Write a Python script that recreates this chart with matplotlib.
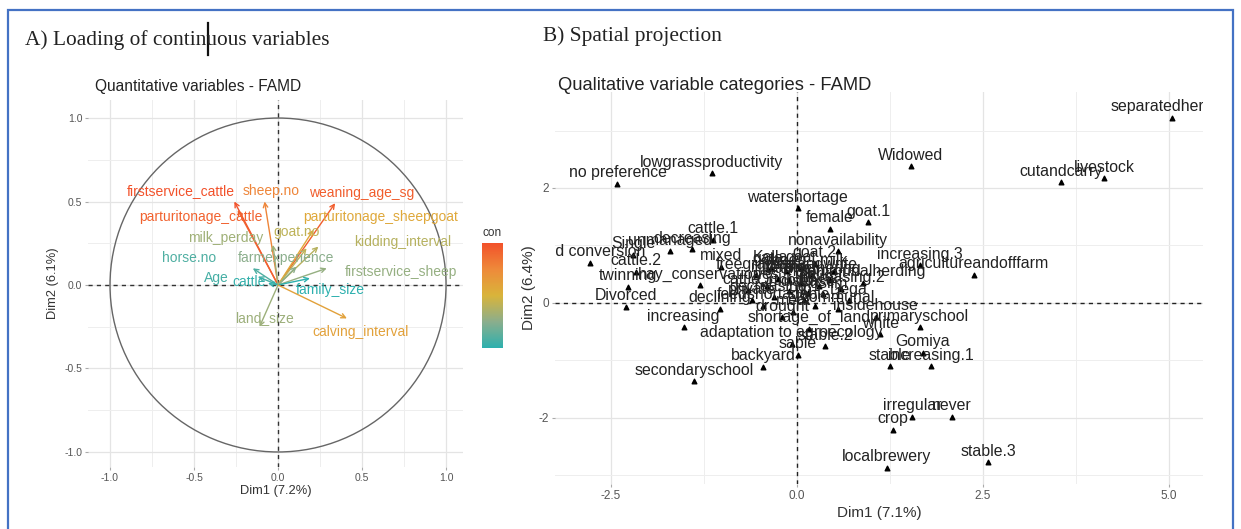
import matplotlib
matplotlib.use("Agg")
import matplotlib.pyplot as plt
import matplotlib.transforms as mtransforms
import numpy as np
from matplotlib.colors import LinearSegmentedColormap, Normalize
from matplotlib.cm import ScalarMappable
from matplotlib.patches import Circle, Rectangle
from matplotlib.lines import Line2D

plt.rcParams['font.family'] = ['Liberation Sans', 'DejaVu Sans']
plt.rcParams['axes.unicode_minus'] = False

# A) quantitative variables: coordinates on Dim1 / Dim2 and contribution
var_names = ["firstservice_cattle", "sheep.no", "weaning_age_sg", "parturitonage_cattle",
             "parturitonage_sheepgoat", "goat.no", "milk_perday", "kidding_interval",
             "horse.no", "farmexperience", "firstservice_sheep", "Age", "cattle",
             "family_size", "land_size", "calving_interval"]
var_dim1 = [-0.26, -0.08, 0.34, -0.24, 0.21, 0.17, -0.03, 0.24,
            -0.15, 0.11, 0.29, -0.12, -0.06, 0.19, -0.11, 0.41]
var_dim2 = [0.50, 0.50, 0.49, 0.45, 0.33, 0.22, 0.24, 0.23,
            0.10, 0.11, 0.10, 0.05, 0.01, 0.04, -0.25, -0.20]
var_contrib = [14.0, 11.0, 13.3, 13.0, 8.4, 6.3, 5.0, 6.0,
               2.1, 4.2, 4.6, 1.8, 1.2, 0.9, 4.9, 8.9]

# label offsets from arrow tip (layout only)
lab_off = {"firstservice_cattle": (-0.32, 0.06), "sheep.no": (0.04, 0.06),
           "weaning_age_sg": (0.16, 0.06), "parturitonage_cattle": (-0.22, -0.04),
           "parturitonage_sheepgoat": (0.40, 0.08), "goat.no": (-0.06, 0.10),
           "milk_perday": (-0.28, 0.04), "kidding_interval": (0.50, 0.03),
           "horse.no": (-0.38, 0.06), "farmexperience": (-0.06, 0.05),
           "firstservice_sheep": (0.44, -0.02), "Age": (-0.25, -0.01),
           "cattle": (-0.11, 0.01), "family_size": (0.12, -0.07),
           "land_size": (0.03, 0.05), "calving_interval": (0.08, -0.08)}

# B) qualitative variable categories
cat_names = ["separatedherding", "Widowed", "cutandcarry", "livestock", "lowgrassproductivity",
             "no preference", "watershortage", "goat.1", "female", "cattle.1",
             "land conversion", "Single", "unmanaged", "decreasing", "cattle.2",
             "twinning", "mixed", "gata", "goat.2", "nonavailability",
             "hay_conservation", "Divorced", "increasing", "secondaryschool", "backyard",
             "adaptation to agroecology", "sable", "stable.2", "primaryschool", "Gomiya",
             "stable", "increasing.1", "irregular", "never", "crop",
             "localbrewery", "stable.3", "insidehouse", "agricultureandofffarm", "increasing.3",
             "communalherding",
             "male", "illiterate", "readandwrite", "Orthodox", "Muslim",
             "yes", "no", "freegrazing", "tethering", "increasing.2",
             "decreasing.1", "stable.1", "sheep", "goat", "cattle.3",
             "milk", "meat", "market", "feedshortage", "disease",
             "drought", "communal", "private", "Dega", "Kolla",
             "Married", "shortage_of_land", "white", "declining"]
cat_dim1 = [5.05, 1.53, 3.55, 4.13, -1.14,
            -2.41, 0.01, 0.96, 0.44, -1.13,
            -2.78, -2.20, -1.71, -1.41, -2.16,
            -2.27, -1.02, -0.39, 0.24, 0.55,
            -1.30, -2.30, -1.52, -1.38, -0.45,
            -0.07, 0.01, 0.38, 1.65, 1.69,
            1.25, 1.80, 1.55, 2.08, 1.29,
            1.21, 2.57, 1.06, 2.38, 1.65,
            0.89,
            0.05, -0.25, 0.20, -0.10, 0.35,
            -0.40, 0.10, -0.55, 0.45, 0.60,
            -0.30, 0.25, -0.15, 0.05, -0.65,
            0.50, -0.05, 0.30, -0.45, 0.15,
            -0.20, 0.55, -0.60, 0.70, -0.35,
            -0.10, 0.17, 1.12, -1.03]
cat_dim2 = [3.22, 2.38, 2.10, 2.17, 2.26,
            2.07, 1.65, 1.40, 1.29, 1.10,
            0.70, 0.84, 0.90, 0.93, 0.54,
            0.28, 0.63, 0.59, 0.68, 0.90,
            0.31, -0.07, -0.42, -1.36, -1.11,
            -0.71, -0.90, -0.75, -0.42, -0.87,
            -1.10, -1.10, -1.98, -1.98, -2.21,
            -2.87, -2.77, -0.24, 0.49, 0.66,
            0.35,
            0.35, 0.42, 0.48, 0.20, 0.15,
            0.30, 0.05, 0.48, 0.40, 0.25,
            0.10, -0.05, 0.55, 0.60, 0.22,
            0.55, -0.15, 0.30, -0.05, 0.18,
            -0.25, -0.10, 0.05, 0.05, 0.60,
            0.40, -0.45, -0.54, -0.10]

W, H = 1241, 529


def px_box(l, t, r, b):
    return [l / W, 1 - b / H, (r - l) / W, (b - t) / H]


fig = plt.figure(figsize=(W / 100, H / 100), dpi=100)
fig.patch.set_facecolor("white")

# gradient like factoextra's c("#00AFBB", "#E7B800", "#FC4E07"), muted mid tones
cmap = LinearSegmentedColormap.from_list(
    "grad", [(0.0, "#2DB0AE"), (0.25, "#8BAE8C"), (0.5, "#D9B43A"),
             (0.75, "#EE8A3A"), (1.0, "#F2512A")])
norm = Normalize(min(var_contrib), max(var_contrib))

# ---------------- left panel ----------------
ax = fig.add_axes(px_box(88, 100, 463, 467))
ax.set_xlim(-1.131, 1.101)
ax.set_ylim(-1.09, 1.108)
ax.set_xticks([-1, -0.5, 0, 0.5, 1])
ax.set_xticklabels(["-1.0", "-0.5", "0.0", "0.5", "1.0"])
ax.set_yticks([-1, -0.5, 0, 0.5, 1])
ax.set_yticklabels(["-1.0", "-0.5", "0.0", "0.5", "1.0"])
ax.set_xticks([-0.75, -0.25, 0.25, 0.75], minor=True)
ax.set_yticks([-0.75, -0.25, 0.25, 0.75], minor=True)
ax.grid(which="major", color="#E4E4E4", lw=0.9)
ax.grid(which="minor", color="#EEEEEE", lw=0.7)
ax.set_axisbelow(True)
for s in ax.spines.values():
    s.set_visible(False)
ax.tick_params(which="major", length=2.5, color="#AAAAAA", labelsize=7.5,
               labelcolor="#555555", pad=1.5)
ax.tick_params(which="minor", length=0)
ax.set_xlabel("Dim1 (7.2%)", fontsize=9.3, labelpad=2, color="#333333")
ax.set_ylabel("Dim2 (6.1%)", fontsize=9.3, labelpad=4, color="#333333")

ax.add_patch(Circle((0, 0), 1, fill=False, color="#666666", lw=1.0))
ax.axhline(0, ls=(0, (3, 3)), color="#333333", lw=1.0)
ax.axvline(0, ls=(0, (3, 3)), color="#333333", lw=1.0)

for name, x, y, c in zip(var_names, var_dim1, var_dim2, var_contrib):
    col = cmap(norm(c))
    ax.annotate("", xy=(x, y), xytext=(0, 0),
                arrowprops=dict(arrowstyle="->", color=col, lw=1.0,
                                shrinkA=0, shrinkB=0, mutation_scale=8))
    dx, dy = lab_off[name]
    ax.text(x + dx, y + dy, name, color=col, fontsize=10, ha="center", va="center")

fig.text(95 / W, 1 - 87 / H, "Quantitative variables - FAMD", fontsize=11.2,
         va="center", color="#222222")

cax = fig.add_axes(px_box(482, 243, 503, 348))
cb = fig.colorbar(ScalarMappable(norm=norm, cmap=cmap), cax=cax)
cb.set_ticks([])
cb.outline.set_visible(False)
fig.text(492 / W, 1 - 233 / H, "con", fontsize=8.5, ha="center", va="center",
         color="#333333")

# ---------------- right panel ----------------
bx = fig.add_axes(px_box(555, 92, 1203, 484))
bx.set_xlim(-3.25, 5.46)
bx.set_ylim(-3.15, 3.67)
bx.set_xticks([-2.5, 0, 2.5, 5.0])
bx.set_xticklabels(["-2.5", "0.0", "2.5", "5.0"])
bx.set_yticks([-2, 0, 2])
bx.set_xticks([-1.25, 1.25, 3.75], minor=True)
bx.set_yticks([-3, -1, 1, 3], minor=True)
bx.grid(which="major", color="#E4E4E4", lw=0.9)
bx.grid(which="minor", color="#EEEEEE", lw=0.7)
bx.set_axisbelow(True)
for s in bx.spines.values():
    s.set_visible(False)
bx.tick_params(which="major", length=2.5, color="#AAAAAA", labelsize=8.5,
               labelcolor="#555555", pad=2)
bx.tick_params(which="minor", length=0)
bx.set_xlabel("Dim1 (7.1%)", fontsize=11, labelpad=3, color="#333333")
bx.set_ylabel("Dim2 (6.4%)", fontsize=11, labelpad=2, color="#333333")

bx.axhline(0, ls=(0, (3, 3)), color="#222222", lw=1.0)
bx.axvline(0, ls=(0, (3, 3)), color="#222222", lw=1.0)

bx.scatter(cat_dim1, cat_dim2, marker="^", s=11, color="black", zorder=3)
off = mtransforms.offset_copy(bx.transData, fig=fig, x=0, y=2.5, units="points")
for name, x, y in zip(cat_names, cat_dim1, cat_dim2):
    bx.text(x, y, name, transform=off, fontsize=11.4, ha="center", va="bottom",
            color="#222222", clip_on=True)

fig.text(558 / W, 1 - 85 / H, "Qualitative variable categories - FAMD", fontsize=13.2,
         va="center", color="#222222")

# ---------------- headers and frame ----------------
fig.text(25 / W, 1 - 40 / H, "A) Loading of continuous variables",
         family=["Liberation Serif", "DejaVu Serif"], fontsize=15.4, va="center",
         color="#222222")
fig.text(543 / W, 1 - 36 / H, "B) Spatial projection",
         family=["Liberation Serif", "DejaVu Serif"], fontsize=15.4, va="center",
         color="#222222")
fig.add_artist(Line2D([208 / W, 208 / W], [1 - 23 / H, 1 - 55 / H],
                      transform=fig.transFigure, color="#111111", lw=1.6))
fig.add_artist(Rectangle((8 / W, -0.05), (1233 - 8) / W, 1.05 - 10 / H,
                         transform=fig.transFigure, fill=False,
                         ec="#4472C4", lw=1.6))

fig.savefig("out.png", dpi=100)
